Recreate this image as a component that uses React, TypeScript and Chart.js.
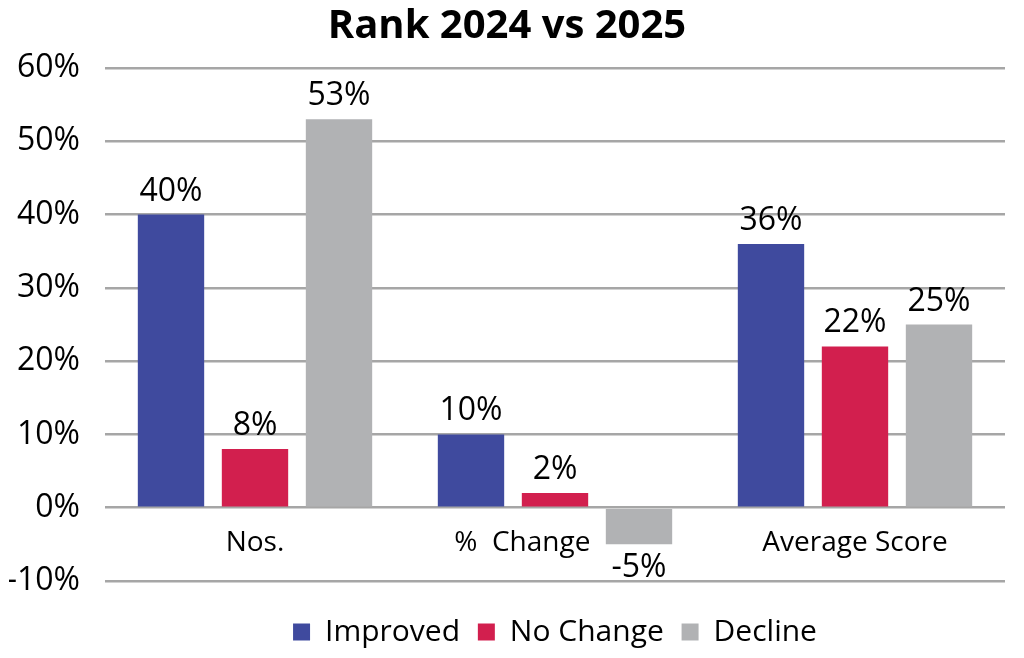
import React, { useEffect, useRef } from "react";
import { Chart, registerables } from "chart.js";

Chart.register(...registerables);

const categories = ["Nos.", "%  Change         ", "Average Score"];
const improved = [40, 10, 36];
const noChange = [8, 2, 22];
const decline = [53, -5, 25];
const yTicks = [60, 50, 40, 30, 20, 10, 0, -10];
const seriesNames = ["Improved", "No Change", "Decline"];
const seriesColors = ["#3F4A9E", "#D21F4E", "#B1B2B4"];
const titleText = "Rank 2024 vs 2025";

const FONT = "'Open Sans', 'Noto Sans', sans-serif";

const valueLabels = {
  id: "valueLabels",
  afterDatasetsDraw(chart: any) {
    const ctx = chart.ctx;
    ctx.save();
    ctx.font = `32px ${FONT}`;
    ctx.fillStyle = "#000";
    ctx.textAlign = "center";
    ctx.textBaseline = "alphabetic";
    chart.data.datasets.forEach((ds: any, i: number) => {
      const meta = chart.getDatasetMeta(i);
      meta.data.forEach((bar: any, j: number) => {
        const v = ds.data[j];
        const text = `${v}%`;
        if (v >= 0) {
          ctx.fillText(text, bar.x, bar.y - 14);
        } else {
          ctx.fillText(text, bar.x, bar.y + 33);
        }
      });
    });
    ctx.restore();
  },
};

export default function App() {
  const ref = useRef<HTMLCanvasElement | null>(null);

  useEffect(() => {
    if (!ref.current) return;
    const chart = new Chart(ref.current, {
      type: "bar",
      data: {
        labels: categories,
        datasets: [improved, noChange, decline].map((d, i) => ({
          label: seriesNames[i],
          data: d,
          backgroundColor: seriesColors[i],
          borderWidth: 0,
          categoryPercentage: 0.84,
          barPercentage: 0.79,
        })),
      },
      options: {
        animation: false,
        responsive: true,
        maintainAspectRatio: false,
        layout: { padding: { left: 9, right: 19, top: 3, bottom: 1 } },
        plugins: {
          title: {
            display: true,
            text: titleText,
            color: "#000",
            font: { family: FONT, size: 40, weight: "bold" },
            padding: { top: 0, bottom: 17 },
          },
          legend: {
            position: "bottom",
            fullSize: false,
            title: { display: true, text: "", font: { size: 10 }, padding: { top: 14, bottom: 0 } },
            labels: {
              color: "#000",
              boxWidth: 17,
              boxHeight: 17,
              padding: 10,
              font: { family: FONT, size: 30 },
              generateLabels(ch: any) {
                const items = Chart.defaults.plugins.legend.labels.generateLabels(ch);
                return items.map((it: any, idx: number) => ({
                  ...it,
                  text: idx < items.length - 1 ? it.text + " " : it.text,
                }));
              },
            },
          },
          tooltip: { enabled: false },
        },
        scales: {
          x: {
            position: { y: 0 } as any,
            grid: { display: false, drawTicks: false },
            border: { display: false },
            afterFit(scale: any) {
              scale.paddingLeft = 0;
              scale.paddingRight = 0;
            },
            ticks: {
              color: "#000",
              padding: 19,
              font: { family: FONT, size: 28 },
            },
          },
          y: {
            min: -10,
            max: 60,
            afterBuildTicks(scale: any) {
              scale.ticks = yTicks.map((v) => ({ value: v }));
            },
            afterFit(scale: any) {
              scale.width = 96;
            },
            grid: { color: "#A6A6A6", lineWidth: 2.5, drawTicks: false },
            border: { display: false },
            ticks: {
              color: "#000",
              padding: 25,
              font: { family: FONT, size: 32 },
              callback: (v: any) => `${v}%`,
            },
          },
        },
      },
      plugins: [valueLabels],
    });
    return () => chart.destroy();
  }, []);

  return (
    <div style={{ position: "fixed", left: 0, top: 0, width: 1024, height: 658, background: "#fff" }}>
      <canvas ref={ref} />
    </div>
  );
}
